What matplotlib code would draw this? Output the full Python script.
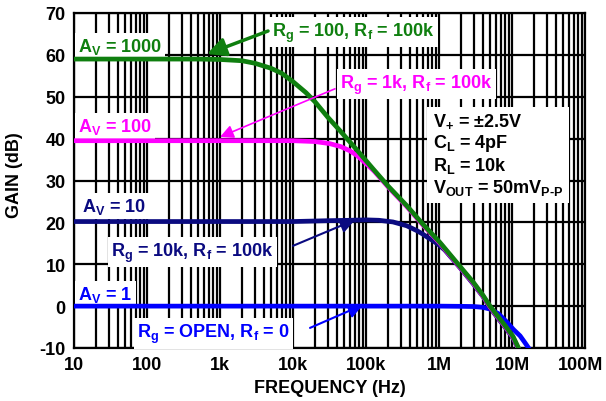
import matplotlib
matplotlib.use("Agg")
import matplotlib.pyplot as plt
import matplotlib.transforms as mtransforms

plt.rcParams['font.family'] = ['Liberation Sans', 'DejaVu Sans']
plt.rcParams['font.weight'] = 'bold'
plt.rcParams['axes.unicode_minus'] = False
plt.rcParams['mathtext.fontset'] = 'custom'
plt.rcParams['mathtext.rm'] = 'Liberation Sans:bold'
plt.rcParams['mathtext.it'] = 'Liberation Sans:bold'
plt.rcParams['mathtext.bf'] = 'Liberation Sans:bold'
plt.rcParams['mathtext.default'] = 'rm'

# ---- data ----
freq_g1000 = [10, 100, 500, 1000, 2000, 3000, 5000, 7000, 10000, 15000, 20000, 30000,
              44000, 70000, 126000, 200000, 361000, 600000, 1.03e6, 2.0e6, 2.95e6,
              4.0e6, 5.0e6, 6.5e6, 8.0e6, 10.3e6, 12.5e6]
gain_g1000 = [59, 59, 59, 58.9, 58.6, 58.0, 56.8, 55.6, 53.6, 51.0, 48.8, 45.1,
              41.9, 37.9, 32.7, 28.7, 24.0, 19.6, 15.2, 9.2, 5.7,
              2.6, 0.0, -2.6, -4.6, -7.2, -10.3]

freq_g100 = [10, 1000, 10000, 20000, 32000, 45000, 60000, 75000, 91000, 110000, 130000,
             200000, 361000, 600000, 1.03e6, 2.0e6, 2.95e6, 4.0e6, 5.0e6, 6.5e6,
             8.0e6, 10.3e6, 12.5e6]
gain_g100 = [39.5, 39.5, 39.5, 39.3, 38.8, 38.1, 37.1, 36.0, 34.7, 33.4, 32.2,
             28.5, 23.8, 19.4, 15.0, 9.0, 5.5, 2.4, -0.2, -2.8,
             -4.8, -7.4, -10.5]

freq_g10 = [10, 1000, 10000, 30000, 60000, 100000, 150000, 234000, 360000, 500000,
            600000, 700000, 830000, 1.0e6, 1.2e6, 2.0e6, 2.95e6, 4.0e6, 5.0e6, 6.5e6,
            8.0e6, 10.3e6, 12.5e6]
gain_g10 = [20.2, 20.2, 20.2, 20.4, 20.5, 20.6, 20.5, 20.1, 19.2, 18.0,
            17.2, 16.4, 15.6, 14.6, 13.4, 8.9, 5.3, 2.3, -0.4, -3.0,
            -5.0, -7.6, -10.6]

freq_g1 = [10, 1000, 100000, 1.0e6, 2.0e6, 3.0e6, 4.0e6, 5.0e6, 6.5e6, 8.5e6,
           10.5e6, 12.9e6, 15.0e6, 17.5e6]
gain_g1 = [0, 0, 0, 0, -0.05, -0.1, -0.3, -0.7, -1.8, -3.8,
           -5.6, -7.1, -8.7, -10.4]

xticks = [10, 100, 1e3, 1e4, 1e5, 1e6, 1e7, 1e8]
xticklabels = ['10', '100', '1k', '10k', '100k', '1M', '10M', '100M']
yticks = [-10, 0, 10, 20, 30, 40, 50, 60, 70]

GREEN = '#0f7f0f'
MAGENTA = '#ff00ff'
NAVY = '#0a0a80'
BLUE = '#0000ff'

fig = plt.figure(figsize=(6.06, 4.02), dpi=100)
ax = fig.add_axes([74/606, 1-349/402, 511/606, 335/402])
ax.set_xscale('log')
ax.set_xlim(10, 1e8)
ax.set_ylim(-10, 70)

ax.set_axisbelow(True)
ax.grid(True, which='major', color='black', linewidth=1.6)
ax.grid(True, which='minor', axis='x', color='black', linewidth=1.6)
for s in ax.spines.values():
    s.set_linewidth(1.6)
    s.set_color('black')

ax.set_xticks(xticks)
ax.set_xticklabels(xticklabels)
ax.set_yticks(yticks)
ax.tick_params(axis='both', which='both', length=0, labelsize=13, pad=6)
for lab in ax.get_xticklabels() + ax.get_yticklabels():
    lab.set_fontweight('bold')
last = ax.get_xticklabels()[-1]
last.set_transform(last.get_transform() +
                   mtransforms.ScaledTranslation(-4/100, 0, fig.dpi_scale_trans))
ax.set_xlabel('FREQUENCY (Hz)', fontsize=13, fontweight='bold', labelpad=4)
ax.set_ylabel('GAIN (dB)', fontsize=13, fontweight='bold')
ax.yaxis.set_label_coords(-0.1, 0.52)

lw = 3.4
ax.plot(freq_g1, gain_g1, color=BLUE, lw=lw, zorder=4, solid_capstyle='butt')
ax.plot(freq_g10, gain_g10, color=NAVY, lw=lw, zorder=4, solid_capstyle='butt')
ax.plot(freq_g100, gain_g100, color=MAGENTA, lw=lw, zorder=4, solid_capstyle='butt')
ax.plot(freq_g1000, gain_g1000, color=GREEN, lw=lw, zorder=4, solid_capstyle='butt')

box = dict(facecolor='white', edgecolor='none', pad=2.5)
fs = 13

def label(x, y, s, c):
    ax.text(x, y, s, color=c, fontsize=fs, fontweight='bold', va='baseline',
            ha='left', bbox=box, zorder=3)

label(11.35, 60.9, r'A$_{V}$ = 1000', GREEN)
label(5150, 64.5, r'R$_{g}$ = 100, R$_{f}$ = 100k', GREEN)
label(44000, 52.1, r'R$_{g}$ = 1k, R$_{f}$ = 100k', MAGENTA)
label(11.35, 41.8, r'A$_{V}$ = 100', MAGENTA)
label(12.9, 22.7, r'A$_{V}$ = 10', NAVY)
label(32.1, 12.0, r'R$_{g}$ = 10k, R$_{f}$ = 100k', NAVY)
label(11.35, 1.7, r'A$_{V}$ = 1', BLUE)
label(73, -7.4, r'R$_{g}$ = OPEN, R$_{f}$ = 0', BLUE)

spec = (r'V$_{+}$ = ±2.5V' + '\n' + r'C$_{L}$ = 4pF' + '\n' + r'R$_{L}$ = 10k' + '\n'
        + r'V$_{OUT}$ = 50mV$_{P\text{-}P}$')
ax.text(828000, 27.25, spec, color='black', fontsize=fs, fontweight='bold',
        va='baseline', ha='left', linespacing=1.15,
        bbox=dict(facecolor='white', edgecolor='none', pad=4), zorder=3)

def arrow(tip, tail, c, lwid, scale):
    ax.annotate('', xy=tip, xytext=tail,
                arrowprops=dict(arrowstyle='-|>', color=c, lw=lwid,
                                mutation_scale=scale, shrinkA=0, shrinkB=0),
                zorder=5)

arrow((664, 60.2), (4550, 65.7), GREEN, 2.5, 28)
arrow((1000, 40.4), (37600, 51.9), MAGENTA, 1.2, 20)
arrow((70600, 20.6), (10000, 14.4), NAVY, 1.5, 22)
arrow((91000, 0.3), (17100, -5.2), BLUE, 1.5, 22)

fig.savefig('out.png', dpi=100)
